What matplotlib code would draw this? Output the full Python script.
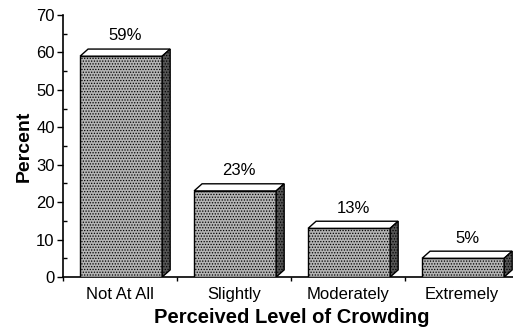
import matplotlib
matplotlib.use("Agg")
import matplotlib.pyplot as plt
from matplotlib.patches import Polygon
from matplotlib.ticker import MultipleLocator, FixedLocator, NullFormatter

categories = ["Not At All", "Slightly", "Moderately", "Extremely"]
percent = [59, 23, 13, 5]
value_labels = ["59%", "23%", "13%", "5%"]

plt.rcParams["font.family"] = ["Liberation Sans", "DejaVu Sans"]
plt.rcParams["hatch.linewidth"] = 0.6

fig = plt.figure(figsize=(5.13, 3.28), dpi=100)
W, H = 513, 328
left_px, right_px, bottom_px, top_px = 63, 519, 277, 15
ax = fig.add_axes([left_px / W, (H - bottom_px) / H,
                   (right_px - left_px) / W, (bottom_px - top_px) / H])

ax.set_xlim(0, 4)
ax.set_ylim(0, 70)

bar_w = 0.72
depth_x = 0.07   # horizontal depth of the 3-D extrusion (data units)
depth_y = 1.9    # vertical depth of the 3-D extrusion (data units)

for i, v in enumerate(percent):
    x0 = i + 0.15
    x1 = x0 + bar_w
    # front face
    ax.add_patch(Polygon([(x0, 0), (x1, 0), (x1, v), (x0, v)], closed=True,
                         facecolor="#b4b4b4", edgecolor="black", lw=1.0,
                         hatch="......", zorder=3))
    # top face
    ax.add_patch(Polygon([(x0, v), (x1, v), (x1 + depth_x, v + depth_y),
                          (x0 + depth_x, v + depth_y)], closed=True,
                         facecolor="white", edgecolor="black", lw=1.0, zorder=3))
    # side face
    ax.add_patch(Polygon([(x1, 0), (x1 + depth_x, depth_y),
                          (x1 + depth_x, v + depth_y), (x1, v)], closed=True,
                         facecolor="#555555", edgecolor="black", lw=1.0,
                         hatch="......", zorder=3))
    ax.text(x0 + bar_w / 2 + depth_x / 2, v + depth_y + 1.5, value_labels[i],
            ha="center", va="bottom", fontsize=12)

for s in ("top", "right"):
    ax.spines[s].set_visible(False)
for s in ("left", "bottom"):
    ax.spines[s].set_linewidth(1.2)

ax.yaxis.set_major_locator(MultipleLocator(10))
ax.yaxis.set_minor_locator(MultipleLocator(5))
ax.tick_params(axis="y", which="major", direction="out", length=4, width=1.0,
               labelsize=12, pad=2)
ax.tick_params(axis="y", which="minor", direction="in", length=3, width=1.0)

ax.xaxis.set_major_locator(FixedLocator([0, 1, 2, 3, 4]))
ax.xaxis.set_major_formatter(NullFormatter())
ax.xaxis.set_minor_locator(FixedLocator([i + 0.5 for i in range(4)]))
ax.set_xticklabels(categories, minor=True)
ax.tick_params(axis="x", which="major", direction="out", length=3, width=1.0)
ax.tick_params(axis="x", which="minor", length=0, labelsize=12, pad=7)

ax.set_ylabel("Percent", fontsize=14, fontweight="bold")
ax.yaxis.set_label_coords(-(left_px - 33) / (right_px - left_px), 0.5)
ax.set_xlabel("Perceived Level of Crowding", fontsize=14.5, fontweight="bold")
ax.xaxis.set_label_coords((292 - left_px) / (right_px - left_px), -0.117)

fig.savefig("out.png", dpi=100)
